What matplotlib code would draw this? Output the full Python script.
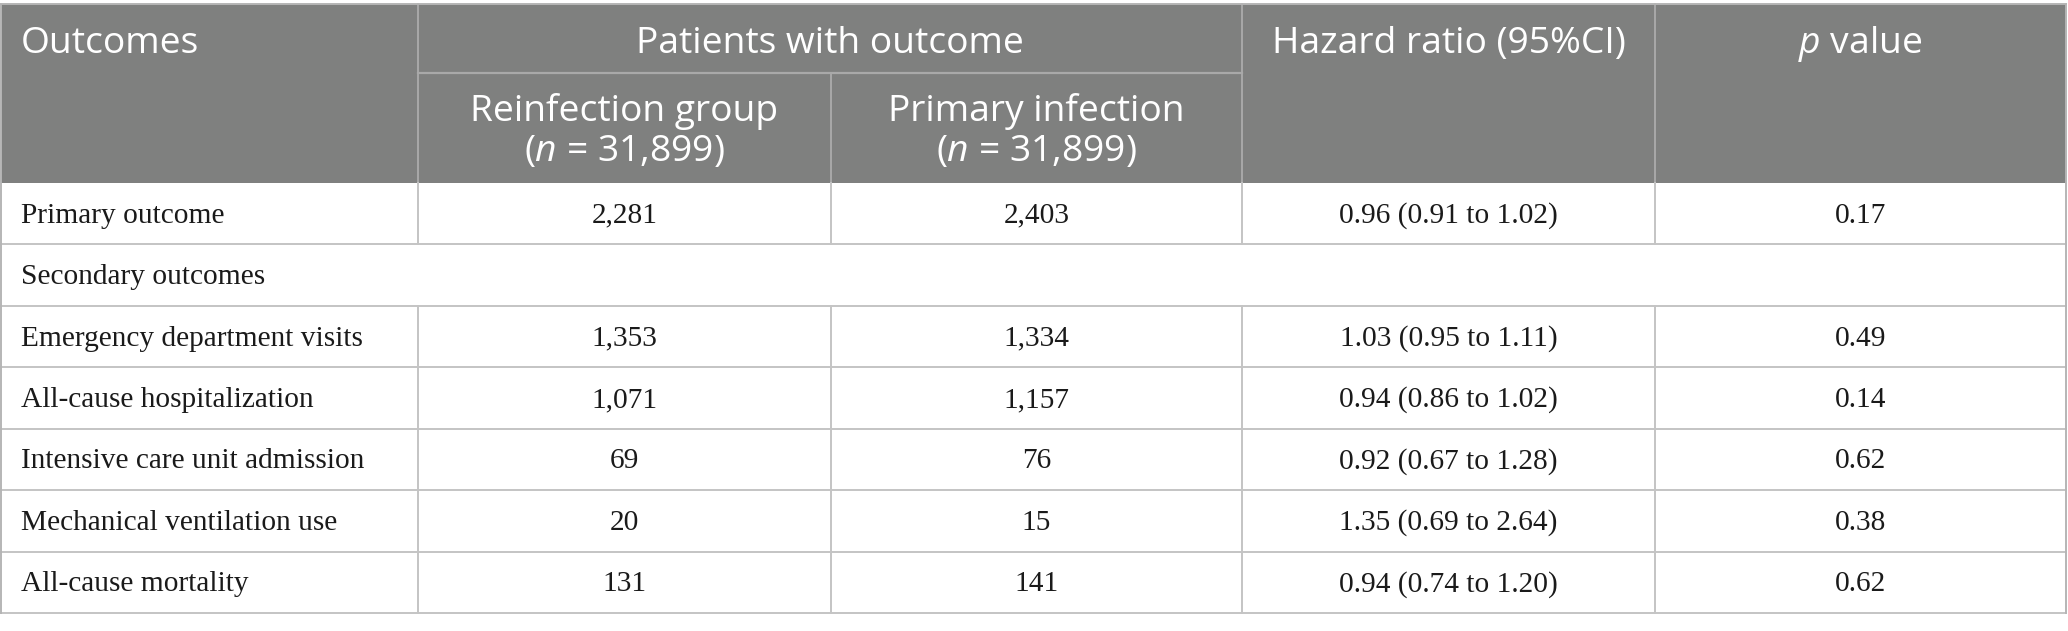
import matplotlib
matplotlib.use("Agg")
import matplotlib.pyplot as plt
from matplotlib.patches import Rectangle

# table content
outcomes = ["Primary outcome", "Secondary outcomes", "Emergency department visits",
            "All-cause hospitalization", "Intensive care unit admission",
            "Mechanical ventilation use", "All-cause mortality"]
reinfection = ["2,281", "", "1,353", "1,071", "69", "20", "131"]
primary = ["2,403", "", "1,334", "1,157", "76", "15", "141"]
hazard = ["0.96 (0.91 to 1.02)", "", "1.03 (0.95 to 1.11)", "0.94 (0.86 to 1.02)",
          "0.92 (0.67 to 1.28)", "1.35 (0.69 to 2.64)", "0.94 (0.74 to 1.20)"]
pvals = ["0.17", "", "0.49", "0.14", "0.62", "0.38", "0.62"]
group_n = "31,899"

plt.rcParams["mathtext.fontset"] = "custom"
plt.rcParams["mathtext.rm"] = "Open Sans"
plt.rcParams["mathtext.it"] = "Open Sans:italic"

W, H = 2068, 631
fig = plt.figure(figsize=(W / 100, H / 100), dpi=100)
ax = fig.add_axes([0, 0, 1, 1])
ax.set_xlim(0, W)
ax.set_ylim(H, 0)
ax.axis("off")

cols = [1, 418, 831, 1242, 1655, 2066]
top, sub_y, head_bot, bottom = 4, 73, 183, 613
row_h = (bottom - head_bot) / len(outcomes)

head_bg = "#7f807f"
head_line = "#a9a9a9"
body_line = "#c4c4c4"
hfont = dict(family="Open Sans", size=26.8, color="white")
bfont = dict(family="Liberation Serif", size=21.2, color="#1a1a1a")

# header block
ax.add_patch(Rectangle((cols[0], top), cols[-1] - cols[0], head_bot - top,
                       facecolor=head_bg, edgecolor="none"))
for x in [cols[1], cols[3], cols[4]]:
    ax.plot([x, x], [top, head_bot], color=head_line, lw=1.4)
ax.plot([cols[2], cols[2]], [sub_y, head_bot], color=head_line, lw=1.4)
ax.plot([cols[1], cols[3]], [sub_y, sub_y], color=head_line, lw=1.6)

ax.text(21, 44, "Outcomes", ha="left", va="center", **hfont)
ax.text((cols[1] + cols[3]) / 2, 44, "Patients with outcome", ha="center", va="center", **hfont)
ax.text((cols[3] + cols[4]) / 2, 44, "Hazard ratio (95%CI)", ha="center", va="center", **hfont)
ax.text((cols[4] + cols[5]) / 2, 44, r"$p$ value", ha="center", va="center", **hfont)
for i, name in enumerate(["Reinfection group", "Primary infection"]):
    cx = (cols[i + 1] + cols[i + 2]) / 2
    ax.text(cx, 111, name, ha="center", va="center", **hfont)
    ax.text(cx, 152, r"($n$ = " + group_n + ")", ha="center", va="center", **hfont)

# body rows
for i, label in enumerate(outcomes):
    y0 = head_bot + i * row_h
    yc = y0 + row_h / 2
    ax.plot([cols[0], cols[-1]], [y0 + row_h, y0 + row_h], color=body_line, lw=1.4)
    ax.text(21, yc + 2, label, ha="left", va="center", **bfont)
    if reinfection[i] == "":
        continue
    for j in range(1, 5):
        ax.plot([cols[j], cols[j]], [y0, y0 + row_h], color=body_line, lw=1.4)
    vals = [reinfection[i], primary[i], hazard[i], pvals[i]]
    for j, v in enumerate(vals):
        ax.text((cols[j + 1] + cols[j + 2]) / 2, yc + 2, v, ha="center", va="center", **bfont)

# outer border
ax.plot([cols[0], cols[0]], [top, bottom], color="#b5b5b5", lw=1.4)
ax.plot([cols[-1], cols[-1]], [top, bottom], color="#b5b5b5", lw=1.4)
ax.plot([cols[0], cols[-1]], [top, top], color="#b5b5b5", lw=1.4)

fig.savefig("out.png", dpi=100, facecolor="white")
